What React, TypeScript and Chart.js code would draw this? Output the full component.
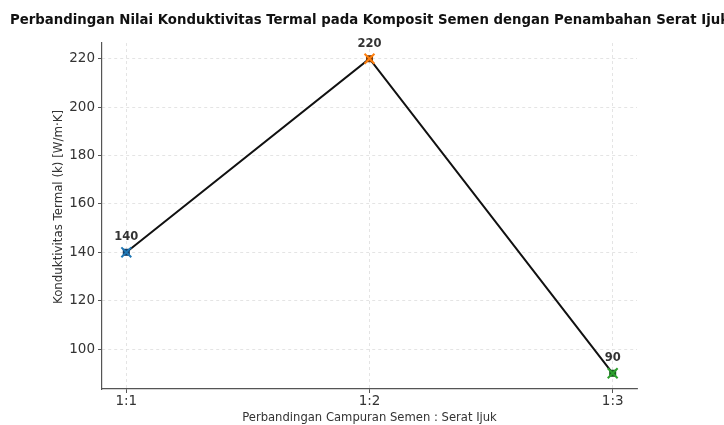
import React, { useEffect, useRef } from 'react';
import { Chart, registerables } from 'chart.js';
Chart.register(...registerables);

const categories = ['1:1', '1:2', '1:3'];
const values = [140, 220, 90];
const pointColors = ['#1f77b4', '#ff7f0e', '#2ca02c'];
const pointCenters = ['#163e66', '#7a3c0a', '#185a20'];
const yTicks = [100, 120, 140, 160, 180, 200, 220];
const title = 'Perbandingan Nilai Konduktivitas Termal pada Komposit Semen dengan Penambahan Serat Ijuk';
const xLabel = 'Perbandingan Campuran Semen : Serat Ijuk';
const yLabel = 'Konduktivitas Termal (k) [W/m·K]';

const FONT = '"DejaVu Sans", sans-serif';

const textPlugin = {
  id: 'texts',
  afterDraw(chart: any) {
    const { ctx, chartArea: a } = chart;
    const cx = (a.left + a.right) / 2;
    ctx.save();
    ctx.fillStyle = '#111';
    ctx.textAlign = 'center';
    ctx.textBaseline = 'alphabetic';
    ctx.font = `bold 13.3px ${FONT}`;
    ctx.fillText(title, cx, 24);
    ctx.fillStyle = '#333';
    ctx.font = `11.6px ${FONT}`;
    ctx.fillText(xLabel, cx, 421);
    ctx.save();
    ctx.translate(59, 207);
    ctx.rotate(-Math.PI / 2);
    ctx.textBaseline = 'middle';
    ctx.font = `11.8px ${FONT}`;
    ctx.fillText(yLabel, 0, 0);
    ctx.restore();
    const meta = chart.getDatasetMeta(2);
    ctx.font = `bold 11.5px ${FONT}`;
    ctx.fillStyle = '#333';
    meta.data.forEach((pt: any, i: number) => {
      ctx.fillText(String(values[i]), pt.x, pt.y - 12);
    });
    ctx.restore();
  },
};

export default function App() {
  const ref = useRef<HTMLCanvasElement | null>(null);
  useEffect(() => {
    if (!ref.current) return;
    const pts = values.map((v, i) => ({ x: i, y: v }));
    const gridOpts = {
      color: '#dedede',
      lineWidth: 0.8,
      tickColor: '#555',
      tickLength: 4,
      tickWidth: 1,
    };
    const borderOpts = { color: '#555', width: 1.2, dash: [3, 3] };
    const tickFont = { family: 'DejaVu Sans', size: 13.5 };
    const chart = new Chart(ref.current, {
      type: 'scatter',
      data: {
        datasets: [
          {
            data: pts,
            pointStyle: 'crossRot',
            pointRadius: 7,
            borderWidth: 2,
            borderColor: pointColors,
            pointBorderColor: pointColors,
            showLine: false,
            order: 0,
          } as any,
          {
            data: pts,
            pointStyle: 'rect',
            pointRadius: 5,
            borderWidth: 0,
            pointBackgroundColor: pointCenters,
            backgroundColor: pointCenters,
            showLine: false,
            order: 1,
          } as any,
          {
            data: pts,
            showLine: true,
            borderColor: '#111',
            borderWidth: 2,
            pointRadius: 0,
            order: 2,
          } as any,
        ],
      },
      options: {
        animation: false,
        responsive: true,
        maintainAspectRatio: false,
        layout: { padding: { left: 0, right: 87, top: 43, bottom: 0 } },
        plugins: { legend: { display: false }, tooltip: { enabled: false }, title: { display: false } },
        scales: {
          x: {
            type: 'linear',
            min: -0.1,
            max: 2.1,
            afterBuildTicks: (s: any) => {
              s.ticks = categories.map((_, i) => ({ value: i }));
            },
            afterFit: (s: any) => {
              s.height = 36;
            },
            ticks: {
              callback: (v: any) => categories[v] ?? '',
              font: tickFont,
              color: '#333',
              padding: 0,
              maxRotation: 0,
              autoSkip: false,
            },
            grid: gridOpts,
            border: borderOpts,
          } as any,
          y: {
            min: 83.5,
            max: 226.5,
            afterBuildTicks: (s: any) => {
              s.ticks = yTicks.map((v) => ({ value: v }));
            },
            afterFit: (s: any) => {
              s.width = 102;
            },
            ticks: { font: tickFont, color: '#333', padding: 3 },
            grid: gridOpts,
            border: borderOpts,
          } as any,
        },
      },
      plugins: [textPlugin],
    });
    return () => chart.destroy();
  }, []);
  return (
    <div style={{ position: 'fixed', left: 0, top: 0, width: 724, height: 425, background: '#fff' }}>
      <canvas ref={ref} />
    </div>
  );
}
